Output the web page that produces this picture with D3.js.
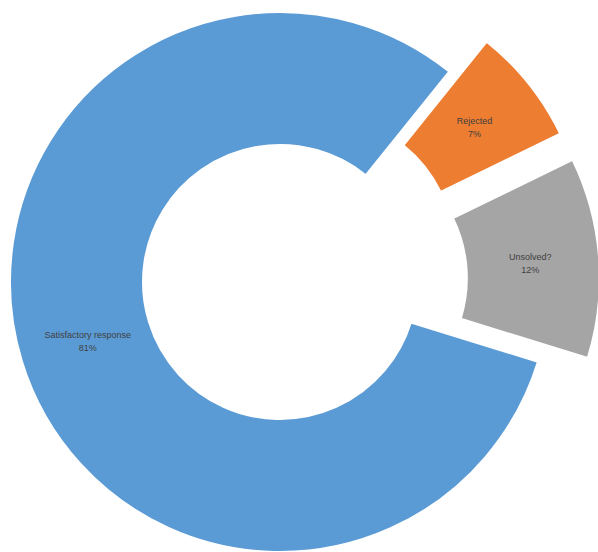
<!DOCTYPE html>
<html><head><meta charset="utf-8">
<script src="https://cdn.jsdelivr.net/npm/d3@7"></script>
<style>html,body{margin:0;padding:0;background:#fff;}</style>
</head><body>
<svg id="c" width="598" height="552"></svg>
<script>
const categories = ["Rejected", "Unsolved?", "Satisfactory response"];
const values = [7, 12, 81];
const labels = ["7%", "12%", "81%"];
const colors = ["#ED7D31", "#A5A5A5", "#5B9BD5"];
const explode = [48, 50, 0];

const svg = d3.select("#c");
const cx = 280, cy = 282, rOuter = 270, rInner = 137;
const start = 38.8 * Math.PI / 180;
const pie = d3.pie().sort(null).startAngle(start).endAngle(start + 2 * Math.PI);
const arcs = pie(values);
const arc = d3.arc().innerRadius(rInner).outerRadius(rOuter);
const g = svg.append("g").attr("transform", `translate(${cx},${cy})`);

arcs.forEach((a, i) => {
  const mid = (a.startAngle + a.endAngle) / 2;
  const dx = Math.sin(mid) * explode[i], dy = -Math.cos(mid) * explode[i];
  const sg = g.append("g").attr("transform", `translate(${dx},${dy})`);
  sg.append("path").attr("d", arc(a)).attr("fill", colors[i]).attr("stroke", "#fff").attr("stroke-width", 2);
  const rl = 201;
  const lx = Math.sin(mid) * rl, ly = -Math.cos(mid) * rl;
  const t = sg.append("text").attr("text-anchor", "middle")
    .attr("font-family", "Liberation Sans, Arial, sans-serif").attr("font-size", 9).attr("fill", "#404040");
  t.append("tspan").attr("x", lx).attr("y", ly - 3).text(categories[i]);
  t.append("tspan").attr("x", lx).attr("y", ly + 10).text(labels[i]);
});
</script>
</body></html>
